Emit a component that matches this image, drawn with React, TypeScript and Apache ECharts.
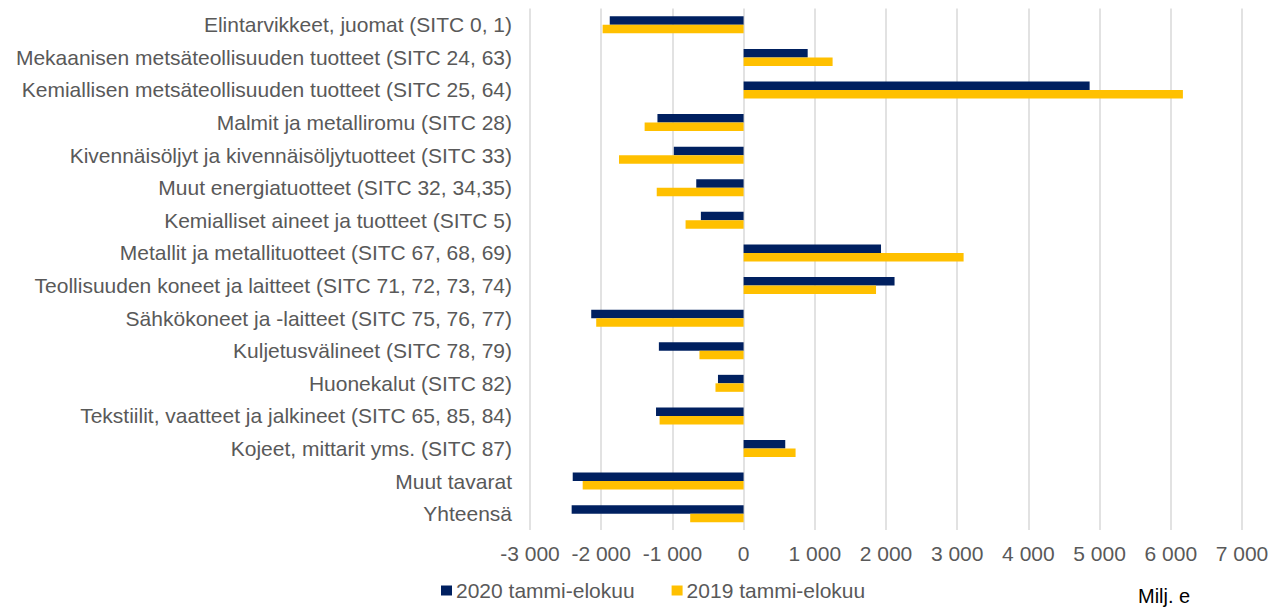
import React, { useEffect, useRef } from "react";
import * as echarts from "echarts";

const categories = [
  "Elintarvikkeet, juomat (SITC 0, 1)",
  "Mekaanisen metsäteollisuuden tuotteet (SITC 24, 63)",
  "Kemiallisen metsäteollisuuden tuotteet (SITC 25, 64)",
  "Malmit ja metalliromu (SITC 28)",
  "Kivennäisöljyt ja kivennäisöljytuotteet (SITC 33)",
  "Muut energiatuotteet (SITC 32, 34,35)",
  "Kemialliset aineet ja tuotteet (SITC 5)",
  "Metallit ja metallituotteet (SITC 67, 68, 69)",
  "Teollisuuden koneet ja laitteet (SITC 71, 72, 73, 74)",
  "Sähkökoneet ja -laitteet (SITC 75, 76, 77)",
  "Kuljetusvälineet (SITC 78, 79)",
  "Huonekalut (SITC 82)",
  "Tekstiilit, vaatteet ja jalkineet (SITC 65, 85, 84)",
  "Kojeet, mittarit yms. (SITC 87)",
  "Muut tavarat",
  "Yhteensä",
];

const values2020 = [
  -1880, 900, 4860, -1210, -980, -665, -600, 1930, 2120, -2140, -1190, -360, -1230, 585, -2400, -2415,
];

const values2019 = [
  -1980, 1250, 6170, -1390, -1750, -1220, -815, 3090, 1860, -2070, -620, -395, -1180, 730, -2260, -750,
];

const seriesNames = ["2020 tammi-elokuu", "2019 tammi-elokuu"];
const unitLabel = "Milj. e";

const FONT = "'Liberation Sans', Arial, sans-serif";

function fmt(v: number): string {
  const s = Math.abs(v).toString().replace(/\B(?=(\d{3})+(?!\d))/g, " ");
  return (v < 0 ? "-" : "") + s;
}

export default function App() {
  const ref = useRef<HTMLDivElement>(null);
  useEffect(() => {
    if (!ref.current) return;
    const chart = echarts.init(ref.current, undefined, { renderer: "svg" });
    chart.setOption({
      animation: false,
      backgroundColor: "#ffffff",
      textStyle: { fontFamily: FONT },
      grid: { left: 530, right: 36, top: 8.5, bottom: 77, containLabel: false },
      legend: {
        left: 436,
        top: 575,
        icon: "rect",
        itemWidth: 11,
        itemHeight: 10,
        itemGap: 37,
        textStyle: { color: "#595959", fontSize: 21, fontFamily: FONT, padding: [0, 0, 0, -1] },
        data: seriesNames,
      },
      xAxis: {
        type: "value",
        min: -3000,
        max: 7000,
        interval: 1000,
        axisLine: { show: false },
        axisTick: { show: false },
        splitLine: { show: true, lineStyle: { color: "#d9d9d9", width: 1.5 } },
        axisLabel: {
          color: "#595959",
          fontSize: 21,
          fontFamily: FONT,
          margin: 13,
          formatter: (v: number) => fmt(v),
        },
      },
      yAxis: {
        type: "category",
        inverse: true,
        data: categories,
        axisLine: { show: false },
        axisTick: { show: false },
        splitLine: { show: false },
        axisLabel: { color: "#595959", fontSize: 21, fontFamily: FONT, margin: 18 },
      },
      series: [
        {
          name: seriesNames[0],
          type: "bar",
          data: values2020,
          barWidth: 8.5,
          barGap: "0%",
          itemStyle: { color: "#002060" },
        },
        {
          name: seriesNames[1],
          type: "bar",
          data: values2019,
          barWidth: 8.5,
          barGap: "0%",
          itemStyle: { color: "#FFC000" },
        },
      ],
      graphic: [
        {
          type: "text",
          left: 1138,
          top: 586,
          style: { text: unitLabel, fill: "#000000", font: `20px ${FONT}` },
        },
      ],
    });
    return () => chart.dispose();
  }, []);
  return (
    <div
      ref={ref}
      style={{ position: "fixed", left: 0, top: 0, width: 1278, height: 607 }}
    />
  );
}
